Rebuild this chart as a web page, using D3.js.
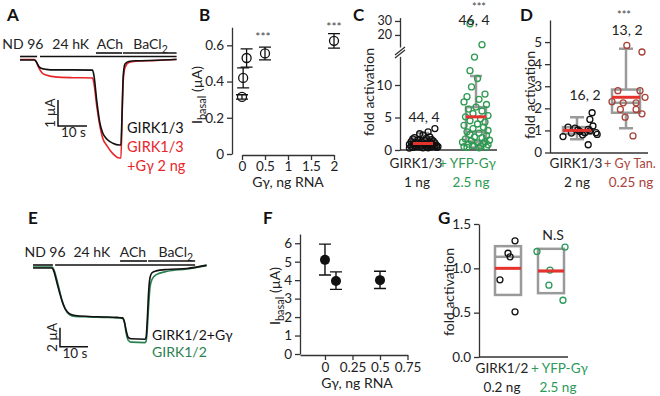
<!DOCTYPE html>
<html>
<head>
<meta charset="utf-8">
<script src="https://cdn.jsdelivr.net/npm/d3@7"></script>
<style>
  body { margin: 0; background: #fff; }
  svg { font-family: Lato, "Open Sans", sans-serif; }
</style>
</head>
<body>
<svg id="fig" width="660" height="396"></svg>
<script>
// ---------------- data ----------------
// panel A : solutions (s) and current traces (uA)
var solNames = ["ND 96", "24 hK", "ACh", "BaCl"];
var solRow = [0, 0, 1, 1];
var solA_start = [0, 6.9, 26.2, 35.5];
var solA_end = [5.9, 54, 35.2, 54];
var solA_label = [1, 17.5, 31, 45];
var tA = [0, 5, 5.5, 6.5, 7.5, 9, 12, 18, 25, 25.5, 26.5, 27.5, 28.5, 30, 32, 34.3, 34.8, 35.2, 35.6, 36.2, 37.5, 40, 47, 54];
var girk13 = [0, 0, -0.05, -0.25, -0.33, -0.36, -0.38, -0.38, -0.39, -0.6, -1.6, -2.4, -2.8, -3.05, -3.2, -3.27, -3.27, -2.0, -0.6, -0.15, -0.06, -0.03, -0.01, 0.02];
var girk13Gg = [0.02, 0.02, -0.05, -0.3, -0.48, -0.58, -0.65, -0.68, -0.69, -0.9, -1.8, -2.5, -3.0, -3.3, -3.6, -3.77, -3.77, -2.2, -0.8, -0.3, -0.1, -0.05, -0.02, 0.03];

// panel B : Ibasal vs G-gamma RNA
var bDose = [0, 0.025, 0.1, 0.5, 2];
var bMean = [0.315, 0.42, 0.53, 0.555, 0.625];
var bErr = [0.012, 0.055, 0.05, 0.035, 0.04];

// panel C : fold activation, GIRK1/3 vs +YFP-Ggamma
var cCtrl = [3.3, 2.8, 2.5, 2.3, 2.0, 1.9, 1.8, 1.7, 1.6, 1.5, 1.45, 1.4, 1.3, 1.25, 1.2, 1.15, 1.1, 1.05, 1.0, 1.0, 0.95, 0.9, 0.9, 0.85, 0.8, 0.8, 0.75, 0.7, 0.7, 0.65, 0.6, 0.6, 0.55, 0.5, 0.5, 0.45, 0.45, 0.4, 0.4, 0.35, 0.35, 0.3, 0.55, 0.5];
var cCtrlJit = [0.35, 0.15, -0.1, 0, 0.2, -0.25, 0.1, -0.3, 0.25, -0.15, 0.05, 0.3, -0.35, -0.05, 0.2, -0.2, 0.35, 0.1, -0.1, 0.25, -0.3, 0.0, 0.15, -0.4, 0.3, -0.15, 0.05, 0.4, -0.25, 0.2, -0.05, 0.35, -0.35, 0.1, -0.2, 0.25, -0.1, 0.4, -0.3, 0.15, 0.0, -0.4, 0.3, 0.44];
var cGg = [28, 16.2, 14.3, 12.2, 11.0, 9.7, 8.6, 8.2, 7.8, 7.4, 7.0, 6.6, 6.3, 6.0, 5.6, 5.3, 5.1, 4.8, 4.5, 4.3, 4.0, 3.8, 3.5, 3.3, 3.0, 2.8, 2.6, 2.4, 2.2, 2.0, 1.9, 1.7, 1.5, 1.4, 1.3, 1.2, 1.1, 1.0, 0.9, 0.8, 0.7, 0.6, 0.5, 0.45, 0.4, 0.35];
var cGgJit = [-0.2, 0.2, -0.05, -0.2, 0.05, -0.15, 0.3, -0.3, 0.1, -0.4, 0.35, 0.0, -0.25, 0.2, -0.1, 0.4, -0.35, 0.15, -0.2, 0.3, 0.05, -0.4, 0.25, -0.1, 0.4, -0.3, 0.1, -0.2, 0.35, -0.05, 0.2, -0.35, 0.45, -0.15, 0.3, -0.45, 0.05, 0.25, -0.25, 0.4, -0.1, 0.15, -0.4, 0.35, -0.3, 0.1];
// box stats [whisker lo, q1, median, q3, whisker hi, mean]
var cBox = [[0.3, 0.5, 1.0, 1.9, 2.6, 1.0], [0.4, 1.3, 2.8, 6.6, 11.4, 5.1]];

// panel D : GIRK1/3 vs + Ggamma Tan.
var dCtrl = [0.72, 1.15, 1.1, 0.95, 0.9, 1.05, 1.5, 1.2, 1.8, 0.35, 0.9, 0.82, 0.88, 1.02, 0.8, 0.98];
var dCtrlJit = [-0.5, -0.32, -0.07, 0.1, 0.28, 0.4, 0.46, 0.57, 0.54, 0.4, 0.68, 0.72, -0.2, 0.03, 0.2, 0.46];
var dTan = [4.85, 4.55, 2.3, 2.8, 2.8, 2.5, 2.25, 2.25, 1.95, 1.95, 1.6, 1.75, 0.75];
var dTanJit = [0.03, 0.57, -0.5, -0.29, 0.5, 0.68, -0.1, 0.36, -0.2, 0.36, -0.03, 0.57, 0.25];
var dBox = [[0.6, 0.85, 1.0, 1.15, 1.6, 1.0], [1.1, 1.8, 2.25, 2.85, 4.7, 2.5]];

// panel E : solutions and traces, GIRK1/2
var solE_start = [0, 7.9, 31.1, 41.1];
var solE_end = [7.1, 57.9, 40.7, 57.9];
var solE_label = [4.3, 21, 35.7, 51];
var tE = [0, 6.8, 7.5, 8.5, 9.5, 10.5, 11.5, 13, 15, 20, 25, 30, 32, 32.6, 33.3, 34, 35, 40, 40.4, 40.8, 41.3, 41.8, 42.5, 44, 48, 55, 62];
var girk12Gg = [0, 0, -0.4, -1.5, -2.6, -3.6, -4.3, -4.8, -5.0, -5.1, -5.15, -5.2, -5.25, -5.6, -6.6, -7.3, -7.45, -7.5, -7.3, -5.5, -2.5, -1.0, -0.5, -0.3, -0.15, -0.05, 0.3];
var girk12 = [0.1, 0.1, -0.2, -1.2, -2.4, -3.5, -4.3, -4.9, -5.1, -5.15, -5.2, -5.25, -5.3, -5.7, -6.9, -7.6, -7.8, -7.85, -7.7, -6.5, -4.0, -2.0, -1.2, -0.7, -0.35, -0.1, 0.25];

// panel F : Ibasal GIRK1/2
var fDose = [0, 0.1, 0.5];
var fMean = [5.1, 3.95, 4.0];
var fLo = [4.28, 3.5, 3.55];
var fHi = [5.95, 4.45, 4.48];

// panel G : GIRK1/2 vs + YFP-Ggamma
var gCtrl = [1.31, 1.17, 1.13, 0.87, 0.51];
var gCtrlJit = [0.27, 0, 0.08, -0.31, 0.27];
var gGg = [1.19, 1.24, 0.98, 0.81, 0.64];
var gGgJit = [-0.54, 0.54, -0.04, -0.08, 0.46];
var gBox = [[null, 0.7, 1.13, 1.25, null, 1.0], [null, 0.72, 0.97, 1.22, null, 0.97]];

// ---------------- drawing ----------------
var svg = d3.select("#fig");
svg.append("rect").attr("width", 660).attr("height", 396).attr("fill", "#fff");

var INK = "#222", GRAY = "#9a9a9a", RED = "#e5322d";
var GREEN_C = "#2f9a52", GREEN_E = "#2a7f50", BROWN = "#a8433a";
var intFmt = d3.format("d");

function addText(x, y, s, size, color, anchor, weight) {
  return svg.append("text").attr("x", x).attr("y", y)
    .attr("font-size", size || 13).attr("fill", color || INK)
    .attr("text-anchor", anchor || "middle")
    .attr("font-weight", weight || "normal").text(s);
}

function vText(x, y, s, size) {
  return svg.append("text")
    .attr("transform", "translate(" + x + "," + y + ") rotate(-90)")
    .attr("text-anchor", "middle").attr("font-size", size || 14)
    .attr("fill", INK).text(s);
}

// I_basal (uA) label with subscript
function ibasalLabel(x, y) {
  var t = svg.append("text")
    .attr("transform", "translate(" + x + "," + y + ") rotate(-90)")
    .attr("text-anchor", "middle").attr("font-size", 14).attr("fill", INK);
  t.append("tspan").text("I");
  t.append("tspan").attr("dy", 4).attr("font-size", 11).text("basal");
  t.append("tspan").attr("dy", -4).text(" (\u00b5A)");
}

function styleAxis(g, fs) {
  g.attr("font-family", null);
  g.selectAll("path.domain").attr("stroke", "#333").attr("stroke-width", 1.3);
  g.selectAll(".tick line").attr("stroke", "#333").attr("stroke-width", 1.3);
  g.selectAll(".tick text").attr("font-size", fs || 13.5).attr("fill", INK);
}

function panelLetter(x, y, s) {
  addText(x, y, s, 17, "#111", "start", "bold");
}

// trace panels (A and E)
function tracePanel(o) {
  var line = d3.line()
    .x(function(d) { return o.x(d[0]); })
    .y(function(d) { return o.y(d[1]); })
    .curve(d3.curveMonotoneX);

  // solution bars
  solNames.forEach(function(n, i) {
    var yy = o.rowY[solRow[i]];
    svg.append("line")
      .attr("x1", o.x(o.start[i])).attr("x2", o.x(o.end[i]))
      .attr("y1", yy).attr("y2", yy)
      .attr("stroke", "#111").attr("stroke-width", 1.6);
    var t = addText(o.x(o.label[i]), o.labelY, n, 14);
    if (n === "BaCl") t.append("tspan").attr("dy", 4).attr("font-size", 10.5).text("2");
  });

  o.series.forEach(function(s, k) {
    svg.append("path")
      .datum(o.t.map(function(tt, i) { return [tt, s[i]]; }))
      .attr("d", line)
      .attr("fill", "none")
      .attr("stroke", o.colors[k])
      .attr("stroke-width", 1.6);
  });

  // scale bar
  var sx = o.x(o.sb[0]), sy = o.y(o.sb[1]);
  var sx2 = o.x(o.sb[0] + 10), sy2 = o.y(o.sb[1] + o.sb[2]);
  svg.append("path")
    .attr("d", "M" + sx + "," + sy2 + "V" + sy + "H" + sx2)
    .attr("fill", "none").attr("stroke", "#111").attr("stroke-width", 1.5);
  vText(sx - 3, (sy + sy2) / 2, o.sb[2] + " \u00b5A", 13.5);
  addText((sx + sx2) / 2 + 1, sy + 11, "10 s", 13.5);
}

// ---- Panel A ----
panelLetter(7, 21, "A");
var xA = d3.scaleLinear().domain([0, 54]).range([20, 176.6]);
var yA = d3.scaleLinear().domain([0, -1]).range([60, 86]);
tracePanel({
  x: xA, y: yA, t: tA, series: [girk13Gg, girk13], colors: ["#e8262a", "#111"],
  start: solA_start, end: solA_end, label: solA_label,
  rowY: [56.5, 53], labelY: 49, sb: [13.1, -2.54, 1]
});
addText(127, 133, "GIRK1/3", 14.5, "#111", "start");
addText(127, 152, "GIRK1/3", 14.5, "#e8262a", "start");
addText(127, 171, "+G\u03b3 2 ng", 14.5, "#e8262a", "start");

// ---- Panel B ----
panelLetter(199, 21, "B");
var xB = d3.scaleLinear().domain([0, 2]).range([242, 334]);
var yB = d3.scaleLinear().domain([0, 0.7]).range([154, 27.2]);
var gBy = svg.append("g").attr("transform", "translate(232,0)")
  .call(d3.axisLeft(yB).tickValues([0, 0.2, 0.4, 0.6]).tickSize(5).tickSizeOuter(0)
    .tickFormat(function(d) { return d === 0 ? "0" : d.toFixed(1); }));
styleAxis(gBy);
var gBx = svg.append("g").attr("transform", "translate(0,155)")
  .call(d3.axisBottom(xB).tickValues([0, 0.5, 1, 1.5, 2]).tickSize(5).tickPadding(1).tickSizeOuter(0)
    .tickFormat(function(d) { return String(d); }));
styleAxis(gBx);
ibasalLabel(202, 95);
addText(288, 187, "G\u03b3, ng RNA", 14);

bDose.forEach(function(d, i) {
  var x = xB(d);
  svg.append("path")
    .attr("d", "M" + x + "," + yB(bMean[i] - bErr[i]) + "V" + yB(bMean[i] + bErr[i]) +
      "M" + (x - 6) + "," + yB(bMean[i] - bErr[i]) + "h12" +
      "M" + (x - 6) + "," + yB(bMean[i] + bErr[i]) + "h12")
    .attr("stroke", "#111").attr("stroke-width", 1.3).attr("fill", "none");
  svg.append("circle").attr("cx", x).attr("cy", yB(bMean[i])).attr("r", 4.5)
    .attr("fill", "none").attr("stroke", "#111").attr("stroke-width", 1.3);
});
addText(xB(0.5) - 2, 41, "***", 12, "#444");
addText(xB(2), 31, "***", 12, "#444");

// box plot helper
function boxGroup(xc, y, st, w, capW, fill) {
  if (st[0] !== null) {
    svg.append("path")
      .attr("d", "M" + xc + "," + y(st[1]) + "V" + y(st[0]) + "M" + xc + "," + y(st[3]) + "V" + y(st[4]) +
        "M" + (xc - capW / 2) + "," + y(st[0]) + "h" + capW +
        "M" + (xc - capW / 2) + "," + y(st[4]) + "h" + capW)
      .attr("stroke", GRAY).attr("stroke-width", 2.5).attr("fill", "none");
  }
  svg.append("rect").attr("x", xc - w / 2).attr("y", y(st[3]))
    .attr("width", w).attr("height", y(st[1]) - y(st[3]))
    .attr("fill", fill || "none").attr("stroke", GRAY).attr("stroke-width", 2.5);
  svg.append("line").attr("x1", xc - w / 2).attr("x2", xc + w / 2)
    .attr("y1", y(st[2])).attr("y2", y(st[2]))
    .attr("stroke", GRAY).attr("stroke-width", 2.5);
}
function meanLine(xc, y, st, w) {
  svg.append("line").attr("x1", xc - w / 2).attr("x2", xc + w / 2)
    .attr("y1", y(st[5])).attr("y2", y(st[5]))
    .attr("stroke", RED).attr("stroke-width", 3);
}
function dots(xc, spread, y, vals, jit, color, r) {
  svg.append("g").selectAll("circle").data(vals).enter().append("circle")
    .attr("cx", function(d, i) { return xc + jit[i] * spread; })
    .attr("cy", function(d) { return y(d); })
    .attr("r", r || 3)
    .attr("fill", "none").attr("stroke", color).attr("stroke-width", 1.3);
}

// ---- Panel C ----
panelLetter(353, 21, "C");
var yCl = d3.scaleLinear().domain([0, 14.4]).range([150, 56.4]);
var yCu = d3.scaleLinear().domain([11.4, 32.4]).range([47, 17.6]);
function yC(v) { return v > 18 ? yCu(v) : yCl(v); }
var gCl = svg.append("g").attr("transform", "translate(400,0)")
  .call(d3.axisLeft(yCl).tickValues([0, 5, 10]).tickSize(5).tickSizeOuter(0).tickFormat(intFmt));
styleAxis(gCl);
var gCu = svg.append("g").attr("transform", "translate(400,0)")
  .call(d3.axisLeft(yCu).tickValues([20, 30]).tickSize(5).tickSizeOuter(0).tickFormat(intFmt));
styleAxis(gCu, 12.5);
svg.append("path").attr("d", "M395,55L405,47M395,58L405,50")
  .attr("stroke", "#333").attr("stroke-width", 1.3).attr("fill", "none");
svg.append("line").attr("x1", 400).attr("x2", 497).attr("y1", 150).attr("y2", 150)
  .attr("stroke", "#333").attr("stroke-width", 1.3);
vText(374, 92, "fold activation", 14);

var cX = [423, 476];
boxGroup(cX[0], yC, cBox[0], 20, 12, "#8f8f8f");
boxGroup(cX[1], yC, cBox[1], 20, 12);
dots(cX[0], 34, yC, cCtrl, cCtrlJit, "#111", 3);
dots(cX[1], 30, yC, cGg, cGgJit, GREEN_C, 3);
meanLine(cX[0], yC, cBox[0], 20);
meanLine(cX[1], yC, cBox[1], 20);
addText(424, 122, "44, 4", 14);
addText(474, 25, "46, 4", 14);
addText(479, 11, "***", 11, "#444");
addText(416, 168, "GIRK1/3", 13.5);
addText(439, 168, "+ YFP-G\u03b3", 13.5, GREEN_C, "start");
addText(417, 187, "1 ng", 13.5);
addText(471, 187, "2.5 ng", 13.5, GREEN_C);

// ---- Panel D ----
panelLetter(520, 21, "D");
var yD = d3.scaleLinear().domain([0, 6]).range([152.5, 20]);
var gDy = svg.append("g").attr("transform", "translate(550,0)")
  .call(d3.axisLeft(yD).tickValues([0, 1, 2, 3, 4, 5]).tickSize(5).tickSizeOuter(0).tickFormat(intFmt));
styleAxis(gDy);
svg.append("line").attr("x1", 550).attr("x2", 648).attr("y1", 153).attr("y2", 153)
  .attr("stroke", "#333").attr("stroke-width", 1.3);
vText(535, 95, "fold activation", 14);
var dX = [577, 626];
boxGroup(dX[0], yD, dBox[0], 28, 14);
boxGroup(dX[1], yD, dBox[1], 28, 14);
dots(dX[0], 28, yD, dCtrl, dCtrlJit, "#111", 3);
dots(dX[1], 28, yD, dTan, dTanJit, BROWN, 3);
meanLine(dX[0], yD, dBox[0], 28);
meanLine(dX[1], yD, dBox[1], 28);
addText(585, 100, "16, 2", 14);
addText(627, 35, "13, 2", 14);
addText(624, 19, "***", 11, "#444");
addText(576, 168, "GIRK1/3", 13.5);
addText(604, 168, "+ G\u03b3 Tan.", 12.5, BROWN, "start");
addText(631, 187, "0.25 ng", 13.5, BROWN);
addText(577, 187, "2 ng", 13.5);

// ---- Panel E ----
panelLetter(28, 224, "E");
var xE = d3.scaleLinear().domain([0, 62]).range([33, 206.6]);
var yE = d3.scaleLinear().domain([0, -1]).range([268, 277.5]);
tracePanel({
  x: xE, y: yE, t: tE, series: [girk12, girk12Gg], colors: [GREEN_E, "#111"],
  start: solE_start, end: solE_end, label: solE_label,
  rowY: [265, 261], labelY: 257, sb: [9.64, -8.3, 2]
});
addText(152, 340, "GIRK1/2+G\u03b3", 14, "#111", "start");
addText(152, 357, "GIRK1/2", 14, GREEN_E, "start");

// ---- Panel F ----
panelLetter(263, 224, "F");
var xF = d3.scaleLinear().domain([-0.227, 0.75]).range([300, 407.5]);
var yF = d3.scaleLinear().domain([0, 6.5]).range([354, 234]);
var gFy = svg.append("g").attr("transform", "translate(300,0)")
  .call(d3.axisLeft(yF).tickValues([0, 1, 2, 3, 4, 5, 6]).tickSize(5).tickSizeOuter(0).tickFormat(intFmt));
styleAxis(gFy);
var gFx = svg.append("g").attr("transform", "translate(0,355)")
  .call(d3.axisBottom(xF).tickValues([0, 0.25, 0.5, 0.75]).tickSize(5).tickPadding(2).tickSizeOuter(0)
    .tickFormat(function(d) { return String(d); }));
styleAxis(gFx);
ibasalLabel(280, 296);
addText(357, 388, "G\u03b3, ng RNA", 14);
fDose.forEach(function(d, i) {
  var x = xF(d);
  svg.append("path")
    .attr("d", "M" + x + "," + yF(fLo[i]) + "V" + yF(fHi[i]) +
      "M" + (x - 6) + "," + yF(fLo[i]) + "h12M" + (x - 6) + "," + yF(fHi[i]) + "h12")
    .attr("stroke", "#111").attr("stroke-width", 1.4).attr("fill", "none");
  svg.append("circle").attr("cx", x).attr("cy", yF(fMean[i])).attr("r", 5).attr("fill", "#111");
});

// ---- Panel G ----
panelLetter(438, 224, "G");
var yG = d3.scaleLinear().domain([0, 1.5]).range([357, 224]);
var gGy = svg.append("g").attr("transform", "translate(479,0)")
  .call(d3.axisLeft(yG).tickValues([0, 0.5, 1, 1.5]).tickSize(5).tickSizeOuter(0)
    .tickFormat(d3.format(".1f")));
styleAxis(gGy);
svg.append("line").attr("x1", 479).attr("x2", 568).attr("y1", 357).attr("y2", 357)
  .attr("stroke", "#333").attr("stroke-width", 1.3);
vText(454, 292, "fold activation", 14);
var gX = [508, 551];
boxGroup(gX[0], yG, gBox[0], 26, 0);
boxGroup(gX[1], yG, gBox[1], 26, 0);
dots(gX[0], 26, yG, gCtrl, gCtrlJit, "#111", 3);
dots(gX[1], 26, yG, gGg, gGgJit, "#2b9a5a", 3);
meanLine(gX[0], yG, gBox[0], 26);
meanLine(gX[1], yG, gBox[1], 26);
addText(553, 240, "N.S", 14);
addText(502, 373, "GIRK1/2", 13.5);
addText(531, 373, "+ YFP-G\u03b3", 13.5, "#2b9a5a", "start");
addText(502, 392, "0.2 ng", 13.5);
addText(558, 392, "2.5 ng", 13.5, "#2b9a5a");
</script>
</body>
</html>
